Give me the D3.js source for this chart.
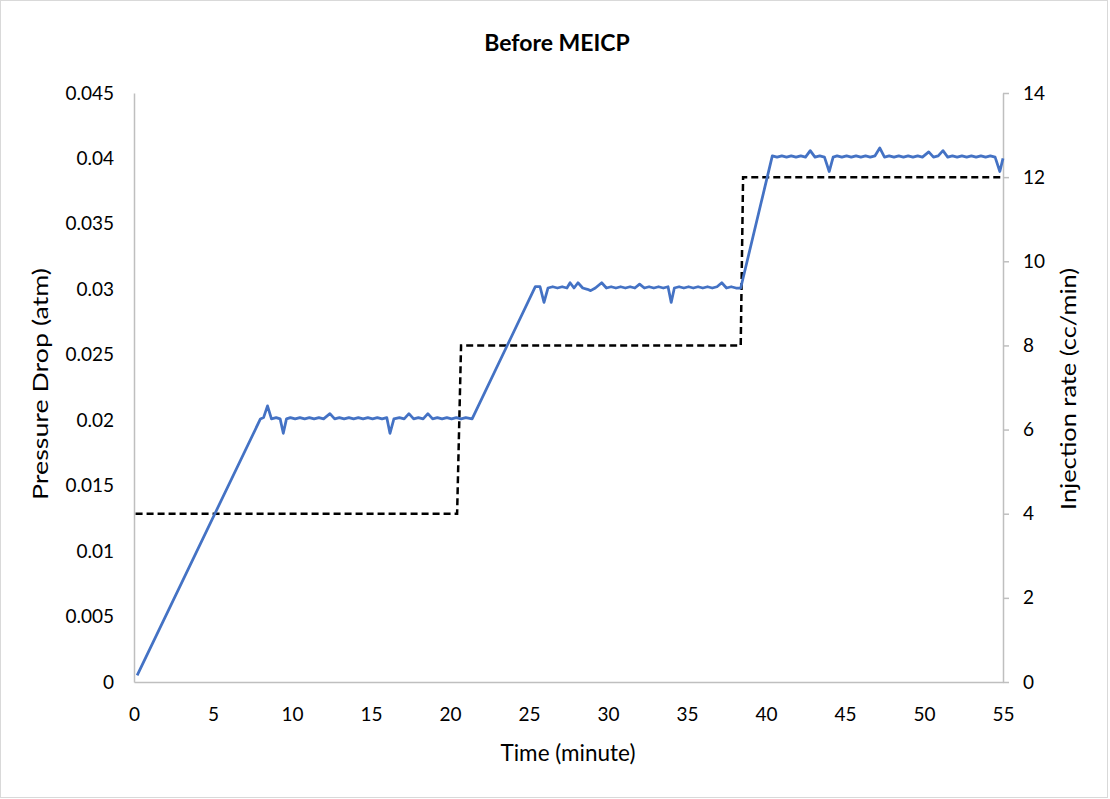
<!DOCTYPE html>
<html>
<head>
<meta charset="utf-8">
<script src="https://cdn.jsdelivr.net/npm/d3@7"></script>
<style>
  body { margin: 0; background: #fff; }
  svg { display: block; font-family: Lato, "Open Sans", sans-serif; }
</style>
</head>
<body>
<svg width="1110" height="799"></svg>
<script>
const svg = d3.select('svg')
const width = +svg.attr('width')
const height = +svg.attr('height')

const title = 'Before MEICP'
const xTitle = 'Time (minute)'
const yTitle = 'Pressure Drop (atm)'
const y2Title = 'Injection rate (cc/min)'

const xTicks = [0,5,10,15,20,25,30,35,40,45,50,55]
const yTicks = [0,0.005,0.01,0.015,0.02,0.025,0.03,0.035,0.04,0.045]
const y2Ticks = [0,2,4,6,8,10,12,14]

// injection rate steps [minute, cc/min]
const injection = [[0.1,4],[20.45,4],[20.7,8],[38.4,8],[38.55,12],[55,12]]

// pressure drop [minute, atm]
const rise1 = [[0.2,0.0005],[8.0,0.0201]]
const plateau1 = [[8.2,0.0202],[8.45,0.0211],[8.7,0.0201],[9.0,0.0202],[9.25,0.0201],[9.45,0.0190],[9.65,0.0201],
  [9.9,0.0202],[10.2,0.0201],[10.5,0.0202],[10.8,0.0201],[11.1,0.0202],[11.4,0.0201],[11.7,0.0202],[12.0,0.0201],
  [12.4,0.0205],[12.7,0.0201],[13.0,0.0202],[13.3,0.0201],[13.6,0.0202],[13.9,0.0201],[14.2,0.0202],[14.5,0.0201],
  [14.8,0.0202],[15.1,0.0201],[15.4,0.0202],[15.7,0.0201],[16.0,0.0202],[16.2,0.0190],[16.45,0.0201],[16.8,0.0202],
  [17.1,0.0201],[17.4,0.0205],[17.7,0.0201],[18.0,0.0202],[18.3,0.0201],[18.6,0.0205],[18.9,0.0201],[19.2,0.0202],
  [19.5,0.0201],[19.8,0.0202],[20.1,0.0201],[20.4,0.0202],[20.7,0.0201],[21.0,0.0202],[21.4,0.0201]]
const rise2 = [[25.4,0.0302]]
const plateau2 = [[25.7,0.0302],[25.95,0.0290],[26.2,0.0301],[26.5,0.0302],[26.8,0.0301],[27.1,0.0302],[27.4,0.0301],
  [27.6,0.0305],[27.85,0.0301],[28.1,0.0305],[28.4,0.0301],[28.7,0.0300],[28.9,0.0299],[29.2,0.0301],[29.6,0.0305],
  [29.9,0.0301],[30.2,0.0302],[30.5,0.0301],[30.8,0.0302],[31.1,0.0301],[31.4,0.0302],[31.7,0.0301],[32.0,0.0304],
  [32.3,0.0301],[32.6,0.0302],[32.9,0.0301],[33.2,0.0302],[33.5,0.0301],[33.8,0.0302],[34.0,0.0290],[34.2,0.0301],
  [34.5,0.0302],[34.8,0.0301],[35.1,0.0302],[35.4,0.0301],[35.7,0.0302],[36.0,0.0301],[36.3,0.0302],[36.6,0.0301],
  [36.9,0.0302],[37.2,0.0305],[37.5,0.0301],[37.8,0.0302],[38.1,0.0301],[38.4,0.0301]]
const rise3 = [[40.4,0.0402]]
const plateau3 = [[40.7,0.0401],[41.0,0.0402],[41.3,0.0401],[41.6,0.0402],[41.9,0.0401],[42.2,0.0402],[42.5,0.0401],
  [42.8,0.0406],[43.1,0.0401],[43.4,0.0402],[43.7,0.0401],[44.0,0.0390],[44.25,0.0401],[44.5,0.0402],[44.8,0.0401],
  [45.1,0.0402],[45.4,0.0401],[45.7,0.0402],[46.0,0.0401],[46.3,0.0402],[46.6,0.0401],[46.9,0.0402],[47.2,0.0408],
  [47.5,0.0401],[47.8,0.0402],[48.1,0.0401],[48.4,0.0402],[48.7,0.0401],[49.0,0.0402],[49.3,0.0401],[49.6,0.0402],
  [49.9,0.0401],[50.3,0.0405],[50.6,0.0401],[50.9,0.0402],[51.2,0.0406],[51.5,0.0401],[51.8,0.0402],[52.1,0.0401],
  [52.4,0.0402],[52.7,0.0401],[53.0,0.0402],[53.3,0.0401],[53.6,0.0402],[53.9,0.0401],[54.2,0.0402],[54.5,0.0401],
  [54.8,0.0390],[55.0,0.0400]]
const pressure = [...rise1, ...plateau1, ...rise2, ...plateau2, ...rise3, ...plateau3]

const margin = {top:93, right:107, bottom:117, left:134}

const x = d3.scaleLinear().domain([0,55]).range([margin.left, width-margin.right])
const y = d3.scaleLinear().domain([0,0.045]).range([height-margin.bottom, margin.top])
const y2 = d3.scaleLinear().domain([0,14]).range([height-margin.bottom, margin.top])

// outer frame
svg.append('rect')
  .attr('x',0.5).attr('y',0.5)
  .attr('width',width-3).attr('height',height-2)
  .attr('fill','none').attr('stroke','#d9d9d9')

const axisStyle = g => {
  g.attr('font-family',null).attr('font-size',null)
  g.select('.domain').attr('stroke','#bfbfbf').attr('stroke-width',1.5)
  g.selectAll('.tick line').attr('stroke','#bfbfbf').attr('stroke-width',1.5)
  g.selectAll('.tick text').attr('fill','#000').style('font-size','19px')
}

svg.append('g')
  .attr('transform',`translate(0,${height-margin.bottom})`)
  .call(d3.axisBottom(x).tickValues(xTicks).tickSize(0).tickPadding(26))
  .call(axisStyle)

svg.append('g')
  .attr('transform',`translate(${margin.left},0)`)
  .call(d3.axisLeft(y).tickValues(yTicks).tickSize(0).tickPadding(20).tickFormat(d => d3.format('')(+d.toFixed(3))))
  .call(axisStyle)

svg.append('g')
  .attr('transform',`translate(${width-margin.right},0)`)
  .call(d3.axisRight(y2).tickValues(y2Ticks).tickSizeOuter(0).tickSizeInner(6).tickPadding(14))
  .call(axisStyle)

// injection rate (dashed)
svg.append('path')
  .datum(injection)
  .attr('fill','none')
  .attr('stroke','#000')
  .attr('stroke-width',2.5)
  .attr('stroke-dasharray','7,4')
  .attr('d',d3.line().x(d => x(d[0])).y(d => y2(d[1])))

// pressure drop
svg.append('path')
  .datum(pressure)
  .attr('fill','none')
  .attr('stroke','#4472c4')
  .attr('stroke-width',2.75)
  .attr('stroke-linejoin','round')
  .attr('d',d3.line().x(d => x(d[0])).y(d => y(d[1])))

svg.append('text')
  .attr('x',557).attr('y',51)
  .attr('text-anchor','middle')
  .style('font-size','23px').style('font-weight','bold')
  .text(title)

svg.append('text')
  .attr('x',568).attr('y',761)
  .attr('text-anchor','middle')
  .style('font-size','22.5px')
  .text(xTitle)

svg.append('text')
  .attr('transform','translate(48,384) rotate(-90)')
  .attr('text-anchor','middle')
  .attr('textLength',232).attr('lengthAdjust','spacingAndGlyphs')
  .style('font-size','22px')
  .text(yTitle)

svg.append('text')
  .attr('transform','translate(1076,389) rotate(-90)')
  .attr('text-anchor','middle')
  .attr('textLength',242).attr('lengthAdjust','spacingAndGlyphs')
  .style('font-size','22px')
  .text(y2Title)
</script>
</body>
</html>
